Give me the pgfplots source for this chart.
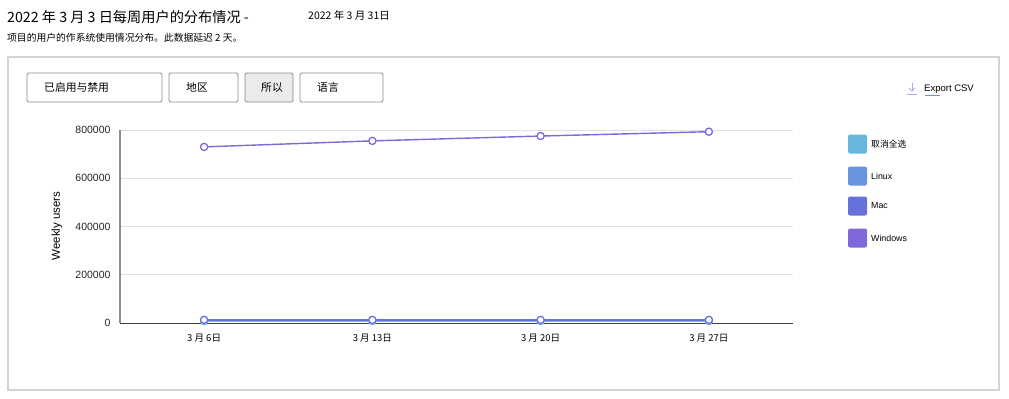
\documentclass[border=0pt]{standalone}
\usepackage{fontspec}
\setmainfont{Liberation Sans}
\newfontfamily\cjk{Noto Sans CJK SC}
\usepackage{pgfplots}
\pgfplotsset{compat=1.18}
\definecolor{cA}{HTML}{67B7DC}
\definecolor{cB}{HTML}{6794DC}
\definecolor{cC}{HTML}{6771DC}
\definecolor{cD}{HTML}{8067DC}
\definecolor{boxgray}{HTML}{D4D4D4}
\definecolor{btngray}{HTML}{8A8A8A}
\begin{document}
\begin{tikzpicture}
\path[use as bounding box] (0,0) rectangle (1009bp,-399bp);
% titles
\node[anchor=base west,inner sep=0] at (7bp,-22bp) {\cjk\fontsize{14.2bp}{16bp}\selectfont 2022 年 3 月 3 日每周用户的分布情况 -};
\node[anchor=base west,inner sep=0] at (308bp,-19bp) {\cjk\fontsize{10.5bp}{12bp}\selectfont 2022 年 3 月 31日};
\node[anchor=base west,inner sep=0] at (7bp,-41bp) {\cjk\fontsize{9.8bp}{11bp}\selectfont 项目的用户的作系统使用情况分布。此数据延迟 2 天。};
% outer frame
\draw[boxgray,line width=1.2bp] (8bp,-57bp) rectangle (999bp,-390bp);
% buttons
\draw[btngray,line width=0.8bp,rounded corners=1.5bp] (27bp,-73bp) rectangle (162bp,-102bp);
\draw[btngray,line width=0.8bp,rounded corners=1.5bp] (169bp,-73bp) rectangle (238bp,-102bp);
\draw[btngray,fill={rgb,255:red,235;green,235;blue,235},line width=0.8bp,rounded corners=1.5bp] (245bp,-73bp) rectangle (293bp,-102bp);
\draw[btngray,line width=0.8bp,rounded corners=1.5bp] (300bp,-73bp) rectangle (383bp,-102bp);
\node[anchor=west,inner sep=0] at (44bp,-87bp) {\cjk\fontsize{10.8bp}{12bp}\selectfont 已启用与禁用};
\node[anchor=west,inner sep=0] at (186bp,-87bp) {\cjk\fontsize{10.8bp}{12bp}\selectfont 地区};
\node[anchor=west,inner sep=0] at (261bp,-87bp) {\cjk\fontsize{10.8bp}{12bp}\selectfont 所以};
\node[anchor=west,inner sep=0] at (317bp,-87bp) {\cjk\fontsize{10.8bp}{12bp}\selectfont 语言};
% export
\draw[cD!60,line width=0.8bp] (912bp,-83bp) -- (912bp,-91bp);
\draw[cD!60,line width=0.8bp] (909bp,-88bp) -- (912bp,-91bp) -- (915bp,-88bp);
\draw[cD!60,line width=0.8bp] (907bp,-94.5bp) -- (917bp,-94.5bp);
\node[anchor=west,inner sep=0] at (924bp,-89bp) {\fontsize{9.5bp}{11bp}\selectfont Export CSV};
\draw[cB,line width=0.6bp] (925bp,-95bp) -- (940bp,-95bp);
% y label
\node[rotate=90,inner sep=0] at (57bp,-226bp) {\fontsize{11.5bp}{13bp}\selectfont Weekly users};
% legend
\foreach \c/\t/\y in {cA/{\cjk 取消全选}/144, cB/Linux/176, cC/Mac/206, cD/Windows/238}{
  \fill[\c,rounded corners=2bp] (848bp,-\y bp+9.5bp) rectangle (867bp,-\y bp-9.5bp);
  \node[anchor=west,inner sep=0] at (871bp,-\y bp) {\fontsize{8.8bp}{10bp}\selectfont \t};
}
\begin{axis}[
  at={(120bp,-323bp)}, anchor=south west,
  scale only axis, width=673bp, height=193bp,
  xmin=-0.5, xmax=3.5, ymin=0, ymax=800000,
  xtick={0,1,2,3},
  xticklabels={3 月 6日,3 月 13日,3 月 20日,3 月 27日},
  x tick label style={font=\cjk\fontsize{9.5bp}{11bp}\selectfont, yshift=-7bp},
  ytick={0,200000,400000,600000,800000},
  scaled y ticks=false,
  y tick label style={font=\fontsize{10.5bp}{12bp}\selectfont, xshift=-6bp, text=black!85},
  /pgf/number format/assume math mode=true,
  /pgf/number format/fixed, /pgf/number format/1000 sep={},
  major tick length=0pt,
  axis x line*=bottom, axis y line*=left,
  x axis line style={-,line width=1bp,color=black!75},
  y axis line style={-,line width=1.5bp,color=black!45},
  ymajorgrids, grid style={line width=0.8bp,color=black!12},
  clip=false,
]
\addplot[cB!80,line width=1.4bp,mark=*,mark size=3.6bp,mark options={fill=white,line width=1.3bp}] coordinates {(0,8000) (1,8000) (2,8000) (3,8000)};
\addplot[cC,line width=1.4bp,mark=*,mark size=3.6bp,mark options={fill=white,line width=1.3bp}] coordinates {(0,13000) (1,13000) (2,13000) (3,13000)};
\addplot[cD,line width=1.4bp,mark=*,mark size=3.6bp,mark options={fill=white,line width=1.3bp}] coordinates {(0,730000) (1,755000) (2,775000) (3,793000)};
\end{axis}
\end{tikzpicture}
\end{document}
